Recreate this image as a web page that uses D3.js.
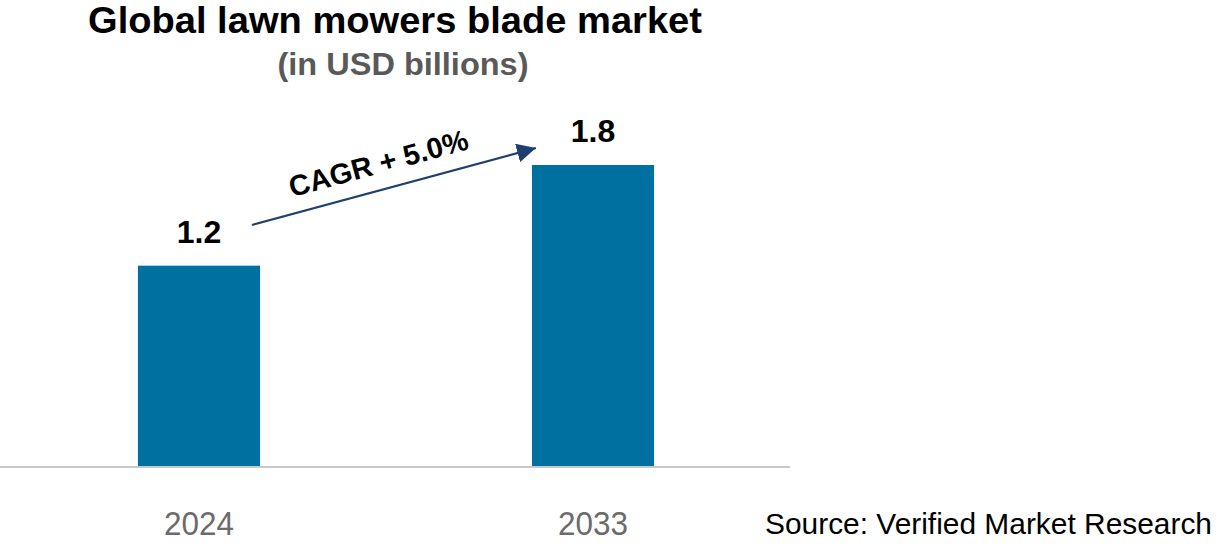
<!DOCTYPE html>
<html><head><meta charset="utf-8">
<script src="https://cdn.jsdelivr.net/npm/d3@7"></script>
<style>body{margin:0;background:#fff;} svg{display:block;font-family:"Liberation Sans",Arial,sans-serif;}</style>
</head><body>
<script>
const years = ["2024", "2033"];
const values = [1.2, 1.8];
const valueLabels = ["1.2", "1.8"];
const cagrLabel = "CAGR + 5.0%";

const W = 1218, H = 546;
const svg = d3.select("body").append("svg").attr("width", W).attr("height", H);

const x = d3.scaleBand().domain(years).range([2, 790]).paddingInner(0.69).paddingOuter(0.345);
const y = d3.scaleLinear().domain([0, 1.8]).range([467, 165]);

svg.append("text").attr("x", 395).attr("y", 33).attr("text-anchor", "middle")
  .attr("font-size", 37).attr("font-weight", "bold").attr("fill", "#000")
  .attr("textLength", 614).attr("lengthAdjust", "spacingAndGlyphs")
  .text("Global lawn mowers blade market");
svg.append("text").attr("x", 403).attr("y", 75).attr("text-anchor", "middle")
  .attr("font-size", 32).attr("font-weight", "bold").attr("fill", "#595959")
  .attr("textLength", 251).attr("lengthAdjust", "spacingAndGlyphs")
  .text("(in USD billions)");

svg.selectAll("rect.bar").data(years).enter().append("rect").attr("class", "bar")
  .attr("x", d => x(d)).attr("width", x.bandwidth())
  .attr("y", (d, i) => y(values[i])).attr("height", (d, i) => y(0) - y(values[i]))
  .attr("fill", "#0070a0");

svg.selectAll("text.val").data(years).enter().append("text").attr("class", "val")
  .attr("x", d => x(d) + x.bandwidth() / 2).attr("y", (d, i) => y(values[i]) - 23)
  .attr("text-anchor", "middle").attr("font-size", 32).attr("font-weight", "bold")
  .text((d, i) => valueLabels[i]);

// axis
const axis = svg.append("g").attr("transform", `translate(0,${y(0)})`)
  .call(d3.axisBottom(x).tickSize(0).tickPadding(42));
axis.select(".domain").attr("stroke", "#c8c8c8").attr("stroke-width", 2).attr("d", "M0,0H790");
axis.selectAll("text").attr("font-size", 33).attr("fill", "#6b6b6b")
  .attr("font-family", "'Liberation Sans', Arial, sans-serif")
  .attr("dy", 0).attr("y", 68)
  .attr("textLength", 70).attr("lengthAdjust", "spacingAndGlyphs");

// arrow
const defs = svg.append("defs");
defs.append("marker").attr("id", "ah").attr("viewBox", "0 0 10 10").attr("refX", 10).attr("refY", 5)
  .attr("markerWidth", 19).attr("markerHeight", 19).attr("markerUnits", "userSpaceOnUse")
  .attr("orient", "auto").attr("preserveAspectRatio", "none")
  .append("path").attr("d", "M0,0L10,5L0,10Z").attr("fill", "#1f3f6e");
const x1 = x(years[0]) + x.bandwidth() / 2 + 53, y1 = 225;
const x2 = x(years[1]) + 4, y2 = 148;
svg.append("line").attr("x1", x1).attr("y1", y1).attr("x2", x2).attr("y2", y2)
  .attr("stroke", "#1f3f6e").attr("stroke-width", 2.2).attr("marker-end", "url(#ah)");
const ang = Math.atan2(y2 - y1, x2 - x1) * 180 / Math.PI;
svg.append("text").attr("transform", `translate(381,173) rotate(${ang})`)
  .attr("text-anchor", "middle").attr("font-size", 29).attr("font-weight", "bold")
  .text(cagrLabel);

svg.append("text").attr("x", 1212).attr("y", 534).attr("text-anchor", "end")
  .attr("font-size", 30).attr("fill", "#000")
  .attr("textLength", 447).attr("lengthAdjust", "spacingAndGlyphs")
  .text("Source: Verified Market Research");
</script>
</body></html>
